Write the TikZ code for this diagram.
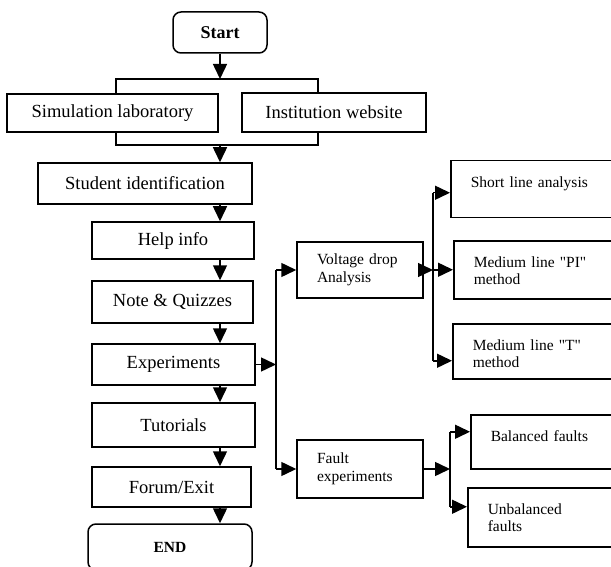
\documentclass[tikz,border=0pt]{standalone}
\usepackage{fontspec}
\setmainfont{Liberation Serif}[Ligatures=TeXOff]
\usetikzlibrary{arrows.meta,calc}

\tikzset{
box/.style={draw, line width=1.5pt, inner sep=0pt, font=\fontsize{18.5}{21}\selectfont},
endbox/.style={box, rounded corners=8pt, font=\fontsize{18}{21}\selectfont\bfseries},
subbox/.style={draw, line width=1.5pt, align=left, text width=86pt, inner xsep=20pt, inner ysep=0pt, font=\fontsize{15.5}{17.5}\selectfont},
leafbox/.style={subbox, anchor=north west, text width=150pt, text height=26.5pt},
link/.style={line width=1.5pt},
arr/.style={link, -{Triangle[length=15pt,width=14pt]}}
}

\begin{document}
\begin{tikzpicture}[x=1pt,y=-1pt]
%\draw[help lines] (0,0) grid (611,567);
\useasboundingbox (0,0) rectangle (611,567);
\clip (0,0) rectangle (611,567);

\node[endbox, minimum width=94pt, minimum height=41pt] (start) at (220,32.5) {Start};
\node[box, minimum width=211pt, minimum height=38pt] (sim) at (112.5,113) {Simulation laboratory};
\node[box, minimum width=184pt, minimum height=39pt] (inst) at (334,112.5) {Institution website};
\node[box, minimum width=214pt, minimum height=41pt] (stud) at (145,183.5) {Student identification};
\node[box, minimum width=162pt, minimum height=37pt] (help) at (173,240.5) {Help info};
\node[box, minimum width=161pt, minimum height=42pt] (note) at (172.5,302) {Note \& Quizzes};
\node[box, minimum width=163pt, minimum height=41pt] (expt) at (173.5,364.5) {Experiments};
\node[box, minimum width=163pt, minimum height=44pt] (tut) at (173.5,425) {Tutorials};
\node[box, minimum width=159pt, minimum height=40pt] (forum) at (171.5,487) {Forum/Exit};
\node[endbox, font=\fontsize{15.5}{18}\selectfont\bfseries, minimum width=164pt, minimum height=46pt] (finish) at (170,547) {END};

\node[subbox, minimum height=56pt] (volt) at (360,270) {Voltage drop\\Analysis};
\node[subbox, minimum height=58pt] (fault) at (360,469) {Fault\\experiments};

\node[leafbox, text depth=30.5pt] (short) at (450,160) {Short line analysis};
\node[leafbox, text depth=31.5pt] (pi) at (453,240) {Medium line "PI"\\method};
\node[leafbox, text depth=28.5pt] (tm) at (452,323) {Medium line "T"\\method};
\node[leafbox, text depth=27.5pt] (bal) at (470,414) {Balanced faults};
\node[leafbox, text depth=32.5pt] (unbal) at (467,487) {Unbalanced\\faults};

\coordinate (tl) at (116,79);
\coordinate (tr) at (318,79);
\coordinate (bl) at (116,145);
\coordinate (br) at (318,145);
\coordinate (j1) at (276,366);
\coordinate (j2) at (433,269);
\coordinate (j3) at (450,468);

\draw[arr] (start.south) -- (start.south |- tl);
\draw[link] (sim.north -| tl) -- (tl) -- (tr) -- (inst.north -| tr);
\draw[link] (sim.south -| bl) -- (bl) -- (br) -- (inst.south -| br);
\draw[arr] (start.south |- bl) -- (stud.north -| start.south);
\foreach \a/\b in {stud/help,help/note,note/expt,expt/tut,tut/forum,forum/finish}
  \draw[arr] (\a.south -| start.south) -- (\b.north -| start.south);

\draw[arr] (expt.east) -- (expt.east -| j1);
\draw[link] (volt.west -| j1) -- (fault.west -| j1);
\foreach \n in {volt,fault}
  \draw[arr] (\n.west -| j1) -- (\n.west);

\draw[arr] (volt.east) -- (volt.east -| j2);
\draw[link] ($(short.west -| j2)+(0,3.5)$) -- ($(tm.west -| j2)+(0,9.5)$);
\foreach \n/\d in {short/3.5,pi/0,tm/9.5}
  \draw[arr] ($(\n.west -| j2)+(0,\d)$) -- ($(\n.west)+(0,\d)$);

\draw[arr] (fault.east) -- (fault.east -| j3);
\draw[link] ($(bal.west -| j3)+(0,-10)$) -- ($(unbal.west -| j3)+(0,-10.5)$);
\foreach \n/\d in {bal/-10,unbal/-10.5}
  \draw[arr] ($(\n.west -| j3)+(0,\d)$) -- ($(\n.west)+(0,\d)$);
\end{tikzpicture}
\end{document}
